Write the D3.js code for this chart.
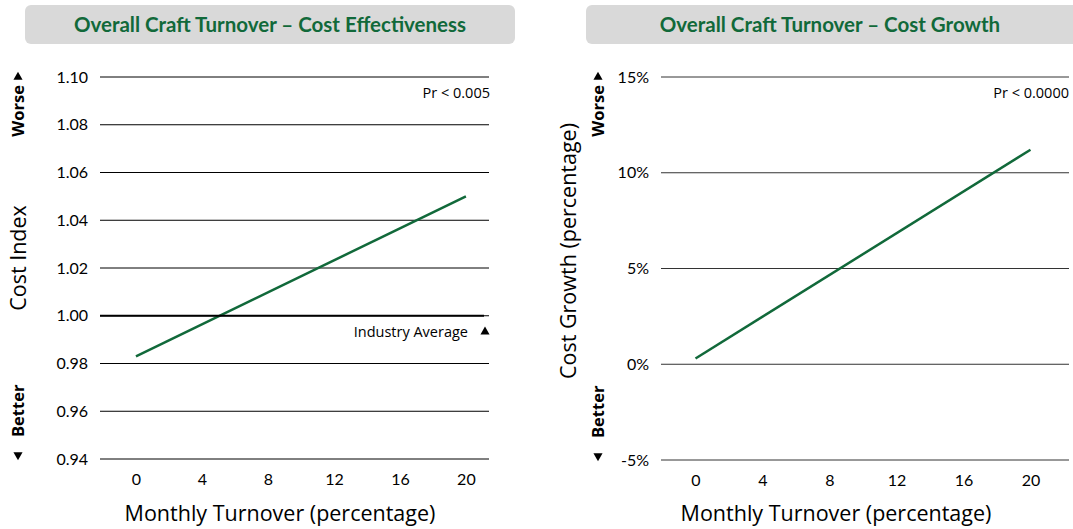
<!DOCTYPE html>
<html>
<head>
	<meta charset="utf-8">
	<title>Overall Craft Turnover</title>
	<style>
		body { margin: 0; background: #fff; }
		svg text { fill: #000; }
		.title { font-family: Lato, "Open Sans", sans-serif; font-weight: bold; font-size: 20.5px; fill: #11693a; }
		.tick text { font-family: Lato, "Open Sans", sans-serif; font-size: 16px; }
		.axtitle { font-family: "Open Sans", sans-serif; font-size: 21.5px; }
		.note { font-family: "Open Sans", sans-serif; font-size: 14.5px; }
		.dir { font-family: "Open Sans", sans-serif; font-weight: bold; font-size: 16.5px; }
	</style>
</head>
<body>
	<div id="drawing"></div>
	<script src="https://cdnjs.cloudflare.com/ajax/libs/d3/7.8.5/d3.min.js"></script>
	<script>
	// Data
	var xTicks      = [0, 4, 8, 12, 16, 20]
	var lineX       = [0, 20]
	var effectY     = [0.983, 1.050]
	var effectTicks = [0.94, 0.96, 0.98, 1.00, 1.02, 1.04, 1.06, 1.08, 1.10]
	var growthY     = [0.3, 11.2]
	var growthTicks = [-5, 0, 5, 10, 15]

	var green = "#11693a"
	var tri = d3.symbol(d3.symbolTriangle, 36)

	var svg = d3.select("#drawing").append("svg")
		.attr("width", 1073)
		.attr("height", 529)

	// One panel
	var drawPanel = function(o){
		var g = svg.append("g")

		// Title box
		g.append("rect")
			.attr("x", o.box[0]).attr("y", 5)
			.attr("width", o.box[1] - o.box[0]).attr("height", 39)
			.attr("rx", 6).attr("ry", 6)
			.attr("fill", "#d9d9d9")
		g.append("text").attr("class", "title")
			.attr("x", o.titleX).attr("y", 32)
			.attr("text-anchor", "middle")
			.text(o.title)

		var x = d3.scaleLinear().domain(o.xDomain).range([o.left, o.right])
		var y = d3.scaleLinear().domain(o.yDomain).range([o.bottom, o.top])

		// Gridlines
		g.selectAll(".grid").data(o.yTicks).enter().append("line")
			.attr("class", "grid")
			.attr("x1", o.left).attr("x2", o.right)
			.attr("y1", function(d){ return y(d) }).attr("y2", function(d){ return y(d) })
			.attr("stroke", o.gridColor)
			.attr("stroke-width", 1)

		// Y axis labels
		var yAxis = d3.axisLeft(y).tickValues(o.yTicks).tickFormat(o.yFormat).tickSize(0).tickPadding(12)
		g.append("g").attr("transform", "translate(" + o.left + ",0)").call(yAxis)
			.call(function(a){ a.select(".domain").remove() })

		// X axis labels
		var xAxis = d3.axisBottom(x).tickValues(xTicks).tickSize(0).tickPadding(15)
		g.append("g").attr("transform", "translate(0," + o.bottom + ")").call(xAxis)
			.call(function(a){ a.select(".domain").remove() })

		g.selectAll(".tick text").attr("fill", "#000")

		// Axis titles
		g.append("text").attr("class", "axtitle")
			.attr("x", o.xTitleX).attr("y", 521)
			.attr("text-anchor", "middle")
			.text("Monthly Turnover (percentage)")
		g.append("text").attr("class", "axtitle")
			.attr("transform", "translate(" + o.yTitleX + "," + o.yTitleY + ") rotate(-90)")
			.attr("text-anchor", "middle")
			.text(o.yTitle)

		// Worse / Better
		g.append("text").attr("class", "dir")
			.attr("transform", "translate(" + (o.dirX + 6) + "," + (o.top + 8) + ") rotate(-90)")
			.attr("text-anchor", "end")
			.text("Worse")
		g.append("path")
			.attr("d", tri())
			.attr("transform", "translate(" + o.dirX + "," + (o.top) + ")")
		g.append("text").attr("class", "dir")
			.attr("transform", "translate(" + (o.dirX + 6) + "," + (o.bottom - 22) + ") rotate(-90)")
			.attr("text-anchor", "start")
			.text("Better")
		g.append("path")
			.attr("d", tri())
			.attr("transform", "translate(" + o.dirX + "," + (o.bottom - 4) + ") rotate(180)")

		// p value
		g.append("text").attr("class", "note")
			.attr("x", o.right + o.prShift).attr("y", o.top + 21)
			.attr("text-anchor", "end")
			.text(o.pr)

		// Trend line
		var pts = lineX.map(function(d, i){ return [d, o.values[i]] })
		g.append("path")
			.datum(pts)
			.attr("fill", "none")
			.attr("stroke", green)
			.attr("stroke-width", 2.5)
			.attr("d", d3.line().x(function(d){ return x(d[0]) }).y(function(d){ return y(d[1]) }))

		return {g: g, x: x, y: y}
	}

	var left = drawPanel({
		box: [25, 515], titleX: 270,
		title: "Overall Craft Turnover \u2013 Cost Effectiveness",
		xDomain: [-2.18, 21.4], left: 100, right: 489,
		yDomain: [0.94, 1.10], top: 77, bottom: 459,
		yTicks: effectTicks, yFormat: d3.format(".2f"),
		gridColor: "#000",
		xTitleX: 280, yTitle: "Cost Index", yTitleX: 26, yTitleY: 258,
		dirX: 18, pr: "Pr < 0.005", prShift: 1,
		values: effectY
	})

	// Industry average line
	left.g.append("line")
		.attr("x1", 100).attr("x2", 484)
		.attr("y1", left.y(1.00)).attr("y2", left.y(1.00))
		.attr("stroke", "#000").attr("stroke-width", 2)
	left.g.append("text").attr("class", "note")
		.attr("x", 468).attr("y", left.y(1.00) + 21)
		.attr("text-anchor", "end")
		.text("Industry Average")
	left.g.append("path")
		.attr("d", tri())
		.attr("transform", "translate(485," + (left.y(1.00) + 16) + ")")

	drawPanel({
		box: [586, 1080], titleX: 830,
		title: "Overall Craft Turnover \u2013 Cost Growth",
		xDomain: [-2.06, 22.3], left: 661, right: 1069,
		yDomain: [-5, 15], top: 77, bottom: 460,
		yTicks: growthTicks, yFormat: function(d){ return d + "%" },
		gridColor: "#333",
		xTitleX: 836, yTitle: "Cost Growth (percentage)", yTitleX: 576, yTitleY: 251,
		dirX: 598, pr: "Pr < 0.0000", prShift: 0,
		values: growthY
	})
	</script>
</body>
</html>
